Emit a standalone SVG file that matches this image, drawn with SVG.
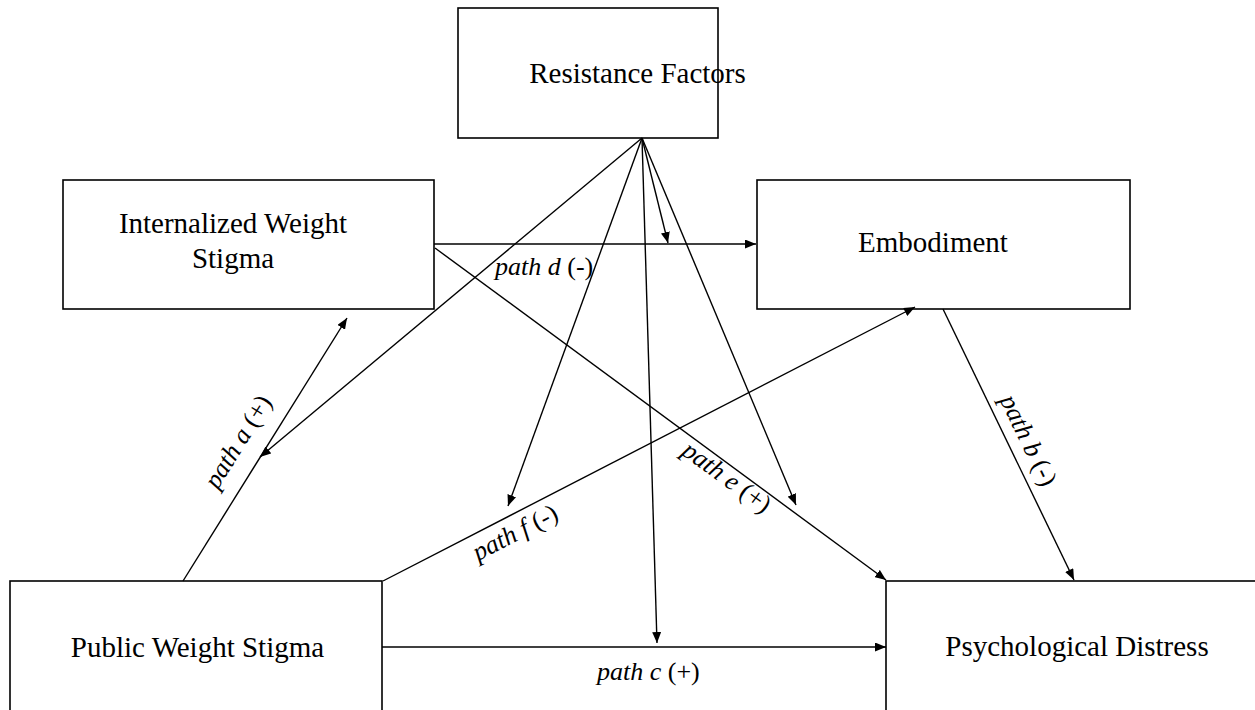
<svg xmlns="http://www.w3.org/2000/svg" width="1255" height="710" viewBox="0 0 1255 710">
<defs>
<style>
.box{fill:#fff;stroke:#000;stroke-width:1.6}
.t{font-family:"Liberation Serif","Times New Roman",serif;font-size:29px;fill:#000}
.lbl{font-family:"Liberation Serif","Times New Roman",serif;font-size:26px;fill:#000}
.i{font-style:italic}
.c line{stroke:#000;stroke-width:1.4;fill:none}
.a{marker-end:url(#ah)}
</style>
<marker id="ah" markerUnits="userSpaceOnUse" markerWidth="11" markerHeight="9" refX="11" refY="4.5" orient="auto">
<path d="M0,0 L11,4.5 L0,9 z" fill="#000"/>
</marker>
</defs>
<rect width="1255" height="710" fill="#fff"/>
<g id="resistance"><rect class="box" x="458" y="8" width="260" height="130"/><text class="t" x="637.5" y="83" text-anchor="middle">Resistance Factors</text></g>
<g id="internalized"><rect class="box" x="63" y="180" width="371" height="129"/><text class="t" x="233" y="233" text-anchor="middle">Internalized Weight</text><text class="t" x="233" y="268" text-anchor="middle">Stigma</text></g>
<g id="embodiment"><rect class="box" x="757" y="180" width="373" height="129"/><text class="t" x="933" y="252" text-anchor="middle">Embodiment</text></g>
<g id="public"><rect class="box" x="10" y="581" width="372" height="140"/><text class="t" x="197.5" y="657" text-anchor="middle">Public Weight Stigma</text></g>
<g id="distress"><rect class="box" x="886" y="581" width="380" height="140"/><text class="t" x="1077" y="656" text-anchor="middle">Psychological Distress</text></g>
<g id="connectors" class="c">
<line class="a" x1="642" y1="138" x2="260" y2="457"/>
<line class="a" x1="642" y1="138" x2="508" y2="506"/>
<line class="a" x1="642" y1="138" x2="657" y2="643"/>
<line class="a" x1="642" y1="138" x2="668" y2="243"/>
<line class="a" x1="642" y1="138" x2="796" y2="505"/>
<line class="a" x1="183" y1="581" x2="347" y2="318"/>
<line class="a" x1="434" y1="244" x2="756" y2="244"/>
<line class="a" x1="435" y1="248" x2="886" y2="580"/>
<line class="a" x1="383" y1="581" x2="915" y2="307"/>
<line class="a" x1="943" y1="309" x2="1074" y2="580"/>
<line class="a" x1="382" y1="647" x2="886" y2="647"/>
</g>
<g id="labels">
<text class="lbl" x="495" y="275"><tspan class="i">path d</tspan> (-)</text>
<text class="lbl" x="597" y="680"><tspan class="i">path c</tspan> (+)</text>
<text class="lbl" text-anchor="middle" transform="translate(245,446) rotate(-58)"><tspan class="i">path a</tspan> (+)</text>
<text class="lbl" text-anchor="middle" transform="translate(1021,444) rotate(64)"><tspan class="i">path b</tspan> (-)</text>
<text class="lbl" text-anchor="middle" transform="translate(722,484) rotate(36)"><tspan class="i">path e</tspan> (+)</text>
<text class="lbl" text-anchor="middle" transform="translate(519,540) rotate(-27.5)"><tspan class="i">path f</tspan> (-)</text>
</g>
</svg>
